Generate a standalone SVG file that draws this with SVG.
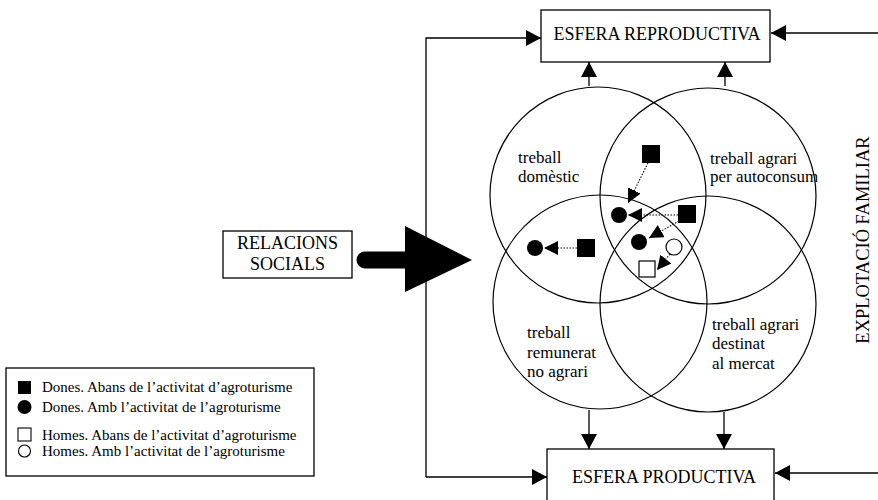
<svg xmlns="http://www.w3.org/2000/svg" width="878" height="500" viewBox="0 0 878 500">
<defs>
<marker id="ah" markerUnits="userSpaceOnUse" markerWidth="16" markerHeight="16" refX="15" refY="8" orient="auto"><path d="M0,0 L15,8 L0,16 z" fill="#000"/></marker>
<marker id="sh" markerUnits="userSpaceOnUse" markerWidth="15" markerHeight="15" refX="14" refY="7" orient="auto"><path d="M0,0 L14,7 L0,14 z" fill="#000"/></marker>
<style>
.box{fill:#fff;stroke:#000;stroke-width:1.3}
.c{fill:none;stroke:#000;stroke-width:1.2}
.ln{fill:none;stroke:#000;stroke-width:1.3}
.dot{fill:none;stroke:#000;stroke-width:1.1;stroke-dasharray:1.5 1.5}
.t{font-family:"Liberation Serif","Times New Roman",serif;fill:#000}
.cap{font-size:18px}
.lab{font-size:17px}
.leg{font-size:15px}
</style>
</defs>
<rect width="878" height="500" fill="#fff"/>

<g id="connectors">
<polyline class="ln" points="426,477 426,38 541,38" marker-end="url(#ah)"/>
<line class="ln" x1="426" y1="477" x2="547" y2="477" marker-end="url(#ah)"/>
<line class="ln" x1="878" y1="33" x2="771" y2="33" marker-end="url(#ah)"/>
<line class="ln" x1="878" y1="473" x2="775" y2="473" marker-end="url(#ah)"/>
<line class="ln" x1="589" y1="86" x2="589" y2="62" marker-end="url(#ah)"/>
<line class="ln" x1="725" y1="86" x2="725" y2="62" marker-end="url(#ah)"/>
<line class="ln" x1="589" y1="410" x2="589" y2="449" marker-end="url(#ah)"/>
<line class="ln" x1="724" y1="412" x2="724" y2="449" marker-end="url(#ah)"/>
<path d="M365,260 L405,260" stroke="#000" stroke-width="17" stroke-linecap="round" fill="none"/>
<polygon points="405,226 472,260 405,292" fill="#000"/>
</g>

<g id="esfera-reproductiva">
<rect class="box" x="541" y="10" width="229" height="52"/>
<text class="t cap" x="657" y="40" text-anchor="middle">ESFERA REPRODUCTIVA</text>
</g>

<g id="esfera-productiva">
<rect class="box" x="547" y="449" width="227" height="60"/>
<text class="t cap" x="664" y="483" text-anchor="middle">ESFERA PRODUCTIVA</text>
</g>

<g id="relacions-socials">
<rect class="box" x="223" y="231" width="129" height="47"/>
<text class="t cap" x="287.5" y="249" text-anchor="middle">RELACIONS</text>
<text class="t cap" x="287.5" y="270" text-anchor="middle">SOCIALS</text>
</g>

<g id="explotacio">
<text class="t" font-size="18.5" transform="translate(869,240) rotate(-90)" text-anchor="middle">EXPLOTACIÓ FAMILIAR</text>
</g>

<g id="treball-domestic">
<circle class="c" cx="598" cy="195" r="108"/>
<text class="t lab" x="518" y="163">treball</text>
<text class="t lab" x="518" y="182">domèstic</text>
</g>
<g id="treball-autoconsum">
<circle class="c" cx="708" cy="196" r="108"/>
<text class="t lab" x="710" y="164">treball agrari</text>
<text class="t lab" x="710" y="182">per autoconsum</text>
</g>
<g id="treball-remunerat">
<circle class="c" cx="600" cy="302" r="107"/>
<text class="t lab" x="527" y="338">treball</text>
<text class="t lab" x="527" y="358">remunerat</text>
<text class="t lab" x="527" y="377">no agrari</text>
</g>
<g id="treball-mercat">
<circle class="c" cx="708" cy="304" r="108"/>
<text class="t lab" x="712" y="330">treball agrari</text>
<text class="t lab" x="712" y="349">destinat</text>
<text class="t lab" x="712" y="369">al mercat</text>
</g>

<g id="markers">
<rect x="642" y="145" width="18" height="18" fill="#000"/>
<line class="dot" x1="648" y1="163" x2="628" y2="203" marker-end="url(#sh)"/>
<circle cx="619" cy="215" r="8" fill="#000"/>
<rect x="678" y="205" width="18" height="18" fill="#000"/>
<line class="dot" x1="678" y1="215" x2="628" y2="215" marker-end="url(#sh)"/>
<line class="dot" x1="679" y1="221" x2="649" y2="238" marker-end="url(#sh)"/>
<circle cx="639" cy="242" r="8" fill="#000"/>
<circle cx="674" cy="247" r="8" fill="#fff" stroke="#000" stroke-width="1.2"/>
<line class="dot" x1="670" y1="254" x2="657" y2="270" marker-end="url(#sh)"/>
<rect x="639" y="261" width="16" height="16" fill="#fff" stroke="#000" stroke-width="1.2"/>
<rect x="577" y="239" width="18" height="18" fill="#000"/>
<line class="dot" x1="577" y1="248" x2="544" y2="248" marker-end="url(#sh)"/>
<circle cx="535" cy="248" r="8" fill="#000"/>
</g>

<g id="legend">
<rect class="box" x="6" y="368" width="308" height="108"/>
<rect x="18" y="381" width="13" height="13" fill="#000"/>
<text class="t leg" x="42" y="392">Dones. Abans de l’activitat d’agroturisme</text>
<circle cx="24.5" cy="407" r="7" fill="#000"/>
<text class="t leg" x="42" y="412">Dones. Amb l’activitat de l’agroturisme</text>
<rect x="18" y="428" width="13" height="13" fill="none" stroke="#000" stroke-width="1.1"/>
<text class="t leg" x="42" y="440">Homes. Abans de l’activitat d’agroturisme</text>
<circle cx="24.5" cy="451" r="6" fill="none" stroke="#000" stroke-width="1.1"/>
<text class="t leg" x="42" y="456">Homes. Amb l’activitat de l’agroturisme</text>
</g>
</svg>
